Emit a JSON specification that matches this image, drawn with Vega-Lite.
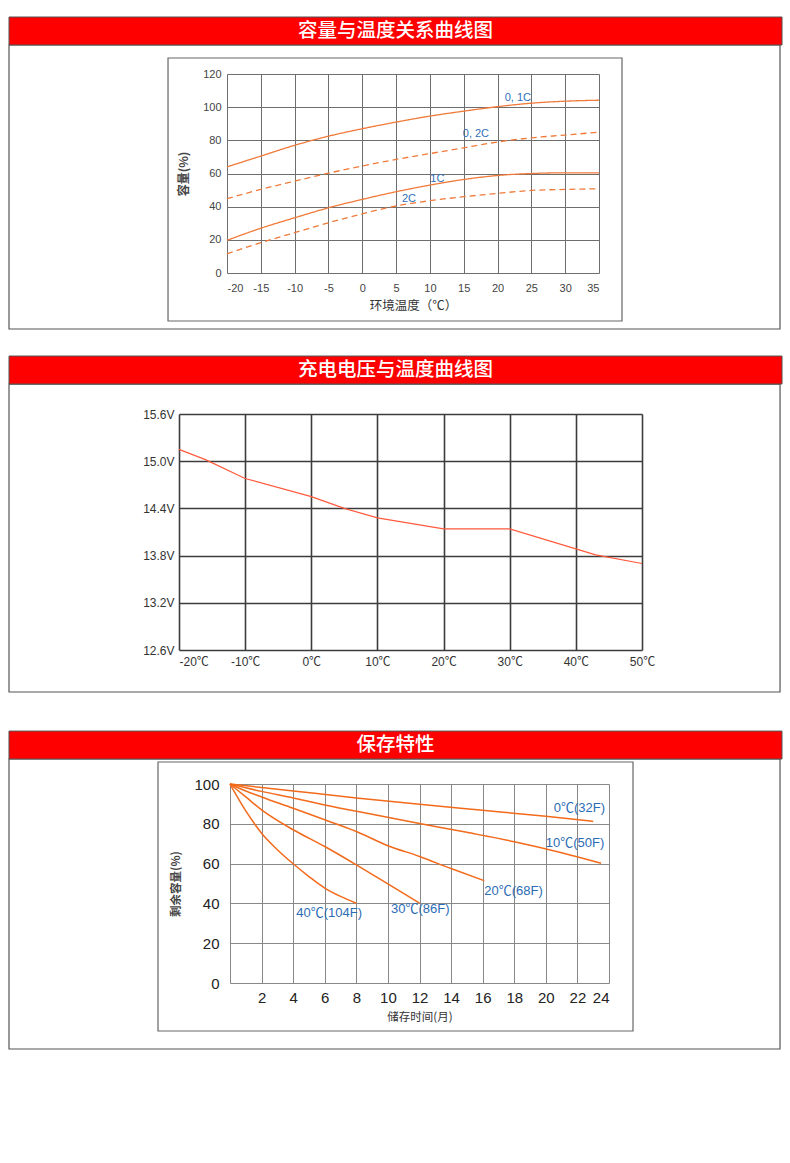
{
  "$schema": "https://vega.github.io/schema/vega-lite/v6.json",
  "padding": {"top": 16, "left": 7, "right": 9, "bottom": 5},
  "background": "white",
  "config": {
    "view": {"stroke": null},
    "font": "Liberation Sans, Noto Sans CJK SC, sans-serif",
    "axis": {"domain": false, "ticks": false, "labelOverlap": false, "labelFont": "Liberation Sans, Noto Sans CJK SC, sans-serif", "titleFont": "Noto Sans CJK SC, sans-serif", "titleFontWeight": "normal"}
  },
  "spacing": 37,
  "vconcat": [
    {
      "spacing": 25,
      "vconcat": [
        {
          "spacing": 0,
          "hconcat": [
            {"width": 1, "height": 1, "data": {"values": []}, "mark": "point"},
            {
              "width": 372,
              "height": 199,
              "layer": [
                {
                  "data": {
                    "values": [
                      {"series": "0.1C", "t": -20, "cap": 64}, {"series": "0.1C", "t": -15, "cap": 70.5}, {"series": "0.1C", "t": -10, "cap": 77}, {"series": "0.1C", "t": -5, "cap": 82.5}, {"series": "0.1C", "t": 0, "cap": 87}, {"series": "0.1C", "t": 5, "cap": 91}, {"series": "0.1C", "t": 10, "cap": 94.6}, {"series": "0.1C", "t": 15, "cap": 97.6}, {"series": "0.1C", "t": 20, "cap": 100.3}, {"series": "0.1C", "t": 25, "cap": 102.4}, {"series": "0.1C", "t": 30, "cap": 103.6}, {"series": "0.1C", "t": 35, "cap": 104.2},
                      {"series": "0.2C", "t": -20, "cap": 44.8}, {"series": "0.2C", "t": -15, "cap": 50.4}, {"series": "0.2C", "t": -10, "cap": 55.4}, {"series": "0.2C", "t": -5, "cap": 60.2}, {"series": "0.2C", "t": 0, "cap": 64.5}, {"series": "0.2C", "t": 5, "cap": 68.5}, {"series": "0.2C", "t": 10, "cap": 72}, {"series": "0.2C", "t": 15, "cap": 75.5}, {"series": "0.2C", "t": 20, "cap": 79}, {"series": "0.2C", "t": 25, "cap": 81.5}, {"series": "0.2C", "t": 30, "cap": 83.2}, {"series": "0.2C", "t": 35, "cap": 84.9},
                      {"series": "1C", "t": -20, "cap": 19.7}, {"series": "1C", "t": -15, "cap": 27}, {"series": "1C", "t": -10, "cap": 33.3}, {"series": "1C", "t": -5, "cap": 39.3}, {"series": "1C", "t": 0, "cap": 44.4}, {"series": "1C", "t": 5, "cap": 49}, {"series": "1C", "t": 10, "cap": 53}, {"series": "1C", "t": 15, "cap": 56.4}, {"series": "1C", "t": 20, "cap": 58.8}, {"series": "1C", "t": 25, "cap": 60}, {"series": "1C", "t": 30, "cap": 60.4}, {"series": "1C", "t": 35, "cap": 60.4},
                      {"series": "2C", "t": -20, "cap": 11.6}, {"series": "2C", "t": -15, "cap": 18.3}, {"series": "2C", "t": -10, "cap": 24.3}, {"series": "2C", "t": -5, "cap": 30.3}, {"series": "2C", "t": 0, "cap": 35.7}, {"series": "2C", "t": 5, "cap": 40.4}, {"series": "2C", "t": 10, "cap": 43.6}, {"series": "2C", "t": 15, "cap": 46}, {"series": "2C", "t": 20, "cap": 48}, {"series": "2C", "t": 25, "cap": 49.8}, {"series": "2C", "t": 30, "cap": 50.4}, {"series": "2C", "t": 35, "cap": 50.8}
                    ]
                  },
                  "mark": {"type": "line", "color": "#f07a3a", "strokeWidth": 1.3, "interpolate": "monotone"},
                  "encoding": {
                    "x": {
                      "field": "t", "type": "quantitative",
                      "scale": {"domain": [-20, 35], "nice": false, "zero": false},
                      "axis": {"values": [-20, -15, -10, -5, 0, 5, 10, 15, 20, 25, 30, 35], "grid": true, "gridColor": "#6e6e6e", "gridWidth": 1, "labelExpr": "'' + datum.value", "labelFontSize": 11, "labelColor": "#444", "labelPadding": 9, "title": "环境温度（℃）", "titleFontSize": 12.5, "titleColor": "#333", "titlePadding": 6}
                    },
                    "y": {
                      "field": "cap", "type": "quantitative",
                      "scale": {"domain": [0, 120], "nice": false},
                      "axis": {"values": [0, 20, 40, 60, 80, 100, 120], "grid": true, "gridColor": "#6e6e6e", "gridWidth": 1, "labelFontSize": 11, "labelColor": "#444", "labelPadding": 6, "title": "容量(%)", "titleFontSize": 12, "titleFontWeight": "bold", "titleColor": "#444", "titlePadding": 12}
                    },
                    "detail": {"field": "series"},
                    "strokeDash": {"field": "series", "type": "nominal", "scale": {"domain": ["0.1C", "0.2C", "1C", "2C"], "range": [[1, 0], [6, 4], [1, 0], [6, 4]]}, "legend": null}
                  }
                },
                {
                  "data": {
                    "values": [
                      {"label": "0, 1C", "t": 23, "cap": 105.4},
                      {"label": "0, 2C", "t": 16.8, "cap": 83.7},
                      {"label": "1C", "t": 11.1, "cap": 56.6},
                      {"label": "2C", "t": 6.9, "cap": 44.6}
                    ]
                  },
                  "mark": {"type": "text", "color": "#2f6fba", "fontSize": 11, "align": "center", "baseline": "middle"},
                  "encoding": {
                    "x": {"field": "t", "type": "quantitative", "axis": {"values": [-20, -15, -10, -5, 0, 5, 10, 15, 20, 25, 30, 35]}},
                    "y": {"field": "cap", "type": "quantitative", "axis": {"values": [0, 20, 40, 60, 80, 100, 120]}},
                    "text": {"field": "label"}
                  }
                },
                {
                  "data": {"values": [{}]},
                  "mark": {"type": "rect", "filled": false, "stroke": "#555", "strokeWidth": 1.2},
                  "encoding": {
                    "x": {"datum": -52.23, "type": "quantitative", "axis": {"values": [-20, -15, -10, -5, 0, 5, 10, 15, 20, 25, 30, 35]}},
                    "x2": {"datum": 61.76},
                    "y": {"datum": 137.49, "type": "quantitative", "axis": {"values": [0, 20, 40, 60, 80, 100, 120]}},
                    "y2": {"datum": -33.77}
                  }
                },
                {
                  "data": {"values": [{}]},
                  "mark": {"type": "rect", "fill": "#ff0000", "stroke": "#555", "strokeWidth": 1},
                  "encoding": {
                    "x": {"datum": -52.23, "type": "quantitative", "axis": {"values": [-20, -15, -10, -5, 0, 5, 10, 15, 20, 25, 30, 35]}},
                    "x2": {"datum": 62.06},
                    "y": {"datum": 154.37, "type": "quantitative", "axis": {"values": [0, 20, 40, 60, 80, 100, 120]}},
                    "y2": {"datum": 137.49}
                  }
                },
                {
                  "data": {"values": [{}]},
                  "mark": {"type": "text", "color": "white", "fontSize": 19.5, "font": "Noto Sans CJK SC", "fontWeight": 500, "align": "center", "baseline": "middle"},
                  "encoding": {
                    "x": {"datum": 4.91, "type": "quantitative", "axis": {"values": [-20, -15, -10, -5, 0, 5, 10, 15, 20, 25, 30, 35]}},
                    "y": {"datum": 145.9, "type": "quantitative", "axis": {"values": [0, 20, 40, 60, 80, 100, 120]}},
                    "text": {"value": "容量与温度关系曲线图"}
                  }
                },
                {
                  "data": {"values": [{}]},
                  "mark": {"type": "rect", "filled": false, "stroke": "#666", "strokeWidth": 1.2},
                  "encoding": {
                    "x": {"datum": -28.72, "type": "quantitative", "axis": {"values": [-20, -15, -10, -5, 0, 5, 10, 15, 20, 25, 30, 35]}},
                    "x2": {"datum": 38.4},
                    "y": {"datum": 129.65, "type": "quantitative", "axis": {"values": [0, 20, 40, 60, 80, 100, 120]}},
                    "y2": {"datum": -28.94}
                  }
                }
              ]
            }
          ]
        },
        {
          "spacing": 0,
          "hconcat": [
            {"width": 1, "height": 1, "data": {"values": []}, "mark": "point"},
            {
              "width": 463,
              "height": 236,
              "layer": [
                {
                  "data": {
                    "values": [
                      {"temp": -20, "volt": 15.15}, {"temp": -16, "volt": 15.02}, {"temp": -10, "volt": 14.78}, {"temp": 0, "volt": 14.55}, {"temp": 5, "volt": 14.4}, {"temp": 10, "volt": 14.28}, {"temp": 20, "volt": 14.14}, {"temp": 30, "volt": 14.14}, {"temp": 40, "volt": 13.885}, {"temp": 43, "volt": 13.81}, {"temp": 50, "volt": 13.7}
                    ]
                  },
                  "mark": {"type": "line", "color": "#ff5a3c", "strokeWidth": 1.2},
                  "encoding": {
                    "x": {
                      "field": "temp", "type": "quantitative",
                      "scale": {"domain": [-20, 50], "nice": false, "zero": false},
                      "axis": {"values": [-20, -10, 0, 10, 20, 30, 40, 50], "grid": true, "gridColor": "#3c3c3c", "gridWidth": 1.6, "labelExpr": "datum.value + '℃'", "labelFontSize": 12, "labelColor": "#333", "labelPadding": 6, "labelAlign": {"condition": {"test": "datum.value == -20", "value": "left"}, "value": "center"}, "title": null}
                    },
                    "y": {
                      "field": "volt", "type": "quantitative",
                      "scale": {"domain": [12.6, 15.6], "nice": false, "zero": false},
                      "axis": {"values": [12.6, 13.2, 13.8, 14.4, 15.0, 15.6], "grid": true, "gridColor": "#3c3c3c", "gridWidth": 1.6, "labelExpr": "format(datum.value, '.1f') + 'V'", "labelFontSize": 12, "labelColor": "#333", "labelPadding": 5, "title": null}
                    }
                  }
                },
                {
                  "data": {"values": [{}]},
                  "mark": {"type": "rect", "filled": false, "stroke": "#555", "strokeWidth": 1.2},
                  "encoding": {
                    "x": {"datum": -45.7, "type": "quantitative", "axis": {"values": [-20, -10, 0, 10, 20, 30, 40, 50]}},
                    "x2": {"datum": 70.87},
                    "y": {"datum": 15.981, "type": "quantitative", "axis": {"values": [12.6, 13.2, 13.8, 14.4, 15.0, 15.6]}},
                    "y2": {"datum": 12.066}
                  }
                },
                {
                  "data": {"values": [{}]},
                  "mark": {"type": "rect", "fill": "#ff0000", "stroke": "#555", "strokeWidth": 1},
                  "encoding": {
                    "x": {"datum": -45.7, "type": "quantitative", "axis": {"values": [-20, -10, 0, 10, 20, 30, 40, 50]}},
                    "x2": {"datum": 71.17},
                    "y": {"datum": 16.337, "type": "quantitative", "axis": {"values": [12.6, 13.2, 13.8, 14.4, 15.0, 15.6]}},
                    "y2": {"datum": 15.981}
                  }
                },
                {
                  "data": {"values": [{}]},
                  "mark": {"type": "text", "color": "white", "fontSize": 19.5, "font": "Noto Sans CJK SC", "fontWeight": 500, "align": "center", "baseline": "middle"},
                  "encoding": {
                    "x": {"datum": 12.73, "type": "quantitative", "axis": {"values": [-20, -10, 0, 10, 20, 30, 40, 50]}},
                    "y": {"datum": 16.159, "type": "quantitative", "axis": {"values": [12.6, 13.2, 13.8, 14.4, 15.0, 15.6]}},
                    "text": {"value": "充电电压与温度曲线图"}
                  }
                }
              ]
            }
          ]
        }
      ]
    },
    {
      "spacing": 0,
      "hconcat": [
        {"width": 1, "height": 1, "data": {"values": []}, "mark": "point"},
        {
          "width": 379,
          "height": 199,
          "layer": [
            {
              "data": {
                "values": [
                  {"series": "0℃", "month": 0, "rem": 100}, {"series": "0℃", "month": 4, "rem": 96.5}, {"series": "0℃", "month": 8, "rem": 93}, {"series": "0℃", "month": 12, "rem": 89.8}, {"series": "0℃", "month": 16, "rem": 86.8}, {"series": "0℃", "month": 20, "rem": 83.8}, {"series": "0℃", "month": 23, "rem": 81.2},
                  {"series": "10℃", "month": 0, "rem": 100}, {"series": "10℃", "month": 2, "rem": 96.3}, {"series": "10℃", "month": 4, "rem": 93}, {"series": "10℃", "month": 6, "rem": 89.5}, {"series": "10℃", "month": 9, "rem": 84.8}, {"series": "10℃", "month": 12, "rem": 80.2}, {"series": "10℃", "month": 15, "rem": 75.7}, {"series": "10℃", "month": 18, "rem": 71}, {"series": "10℃", "month": 21, "rem": 65.5}, {"series": "10℃", "month": 23.5, "rem": 60.2},
                  {"series": "20℃", "month": 0, "rem": 100}, {"series": "20℃", "month": 1, "rem": 96.5}, {"series": "20℃", "month": 2, "rem": 93.5}, {"series": "20℃", "month": 4, "rem": 87.8}, {"series": "20℃", "month": 6, "rem": 82}, {"series": "20℃", "month": 8, "rem": 76.1}, {"series": "20℃", "month": 10, "rem": 69}, {"series": "20℃", "month": 12, "rem": 63.6}, {"series": "20℃", "month": 14, "rem": 57.5}, {"series": "20℃", "month": 16.1, "rem": 51.4},
                  {"series": "30℃", "month": 0, "rem": 100}, {"series": "30℃", "month": 1, "rem": 93.5}, {"series": "30℃", "month": 2, "rem": 87}, {"series": "30℃", "month": 4, "rem": 77}, {"series": "30℃", "month": 6, "rem": 68.6}, {"series": "30℃", "month": 8, "rem": 59.4}, {"series": "30℃", "month": 10, "rem": 49.8}, {"series": "30℃", "month": 12, "rem": 40.1},
                  {"series": "40℃", "month": 0, "rem": 100}, {"series": "40℃", "month": 1, "rem": 86.5}, {"series": "40℃", "month": 2, "rem": 75.3}, {"series": "40℃", "month": 3, "rem": 67}, {"series": "40℃", "month": 4, "rem": 59.9}, {"series": "40℃", "month": 5, "rem": 53.5}, {"series": "40℃", "month": 6, "rem": 47.7}, {"series": "40℃", "month": 7, "rem": 43.5}, {"series": "40℃", "month": 8, "rem": 40.1}
                ]
              },
              "mark": {"type": "line", "color": "#f26a1b", "strokeWidth": 1.5, "interpolate": "monotone"},
              "encoding": {
                "x": {
                  "field": "month", "type": "quantitative",
                  "scale": {"domain": [0, 24], "nice": false},
                  "axis": {"values": [0, 2, 4, 6, 8, 10, 12, 14, 16, 18, 20, 22, 24], "grid": true, "gridColor": "#888", "gridWidth": 1, "labelExpr": "datum.value == 0 ? '' : '' + datum.value", "labelFontSize": 15, "labelColor": "#222", "labelPadding": 7, "title": "储存时间(月)", "titleFontSize": 11.5, "titleColor": "#333", "titlePadding": 6}
                },
                "y": {
                  "field": "rem", "type": "quantitative",
                  "scale": {"domain": [0, 100], "nice": false},
                  "axis": {"values": [0, 20, 40, 60, 80, 100], "grid": true, "gridColor": "#888", "gridWidth": 1, "labelFontSize": 15, "labelColor": "#222", "labelPadding": 11, "title": "剩余容量(%)", "titleFontSize": 11.5, "titleFontWeight": "bold", "titleColor": "#444", "titlePadding": 12}
                },
                "detail": {"field": "series"}
              }
            },
            {
              "data": {
                "values": [
                  {"label": "0℃(32F)", "month": 20.5, "rem": 87.7},
                  {"label": "10℃(50F)", "month": 20.0, "rem": 70.2},
                  {"label": "20℃(68F)", "month": 16.1, "rem": 46},
                  {"label": "30℃(86F)", "month": 10.2, "rem": 37},
                  {"label": "40℃(104F)", "month": 4.2, "rem": 35}
                ]
              },
              "mark": {"type": "text", "color": "#2b6cb5", "fontSize": 13, "align": "left", "baseline": "middle"},
              "encoding": {
                "x": {"field": "month", "type": "quantitative", "axis": {"values": [0, 2, 4, 6, 8, 10, 12, 14, 16, 18, 20, 22, 24]}},
                "y": {"field": "rem", "type": "quantitative", "axis": {"values": [0, 20, 40, 60, 80, 100]}},
                "text": {"field": "label"}
              }
            },
            {
              "data": {"values": [{}]},
              "mark": {"type": "rect", "filled": false, "stroke": "#555", "strokeWidth": 1.2},
              "encoding": {
                "x": {"datum": -13.995, "type": "quantitative", "axis": {"values": [0, 2, 4, 6, 8, 10, 12, 14, 16, 18, 20, 22, 24]}},
                "x2": {"datum": 34.83},
                "y": {"datum": 112.56, "type": "quantitative", "axis": {"values": [0, 20, 40, 60, 80, 100]}},
                "y2": {"datum": -33.17}
              }
            },
            {
              "data": {"values": [{}]},
              "mark": {"type": "rect", "fill": "#ff0000", "stroke": "#555", "strokeWidth": 1},
              "encoding": {
                "x": {"datum": -13.995, "type": "quantitative", "axis": {"values": [0, 2, 4, 6, 8, 10, 12, 14, 16, 18, 20, 22, 24]}},
                "x2": {"datum": 34.955},
                "y": {"datum": 126.6, "type": "quantitative", "axis": {"values": [0, 20, 40, 60, 80, 100]}},
                "y2": {"datum": 112.56}
              }
            },
            {
              "data": {"values": [{}]},
              "mark": {"type": "text", "color": "white", "fontSize": 19.5, "font": "Noto Sans CJK SC", "fontWeight": 500, "align": "center", "baseline": "middle"},
              "encoding": {
                "x": {"datum": 10.48, "type": "quantitative", "axis": {"values": [0, 2, 4, 6, 8, 10, 12, 14, 16, 18, 20, 22, 24]}},
                "y": {"datum": 119.6, "type": "quantitative", "axis": {"values": [0, 20, 40, 60, 80, 100]}},
                "text": {"value": "保存特性"}
              }
            },
            {
              "data": {"values": [{}]},
              "mark": {"type": "rect", "filled": false, "stroke": "#666", "strokeWidth": 1.2},
              "encoding": {
                "x": {"datum": -4.559, "type": "quantitative", "axis": {"values": [0, 2, 4, 6, 8, 10, 12, 14, 16, 18, 20, 22, 24]}},
                "x2": {"datum": 25.52},
                "y": {"datum": 111.06, "type": "quantitative", "axis": {"values": [0, 20, 40, 60, 80, 100]}},
                "y2": {"datum": -24.12}
              }
            }
          ]
        }
      ]
    }
  ]
}
